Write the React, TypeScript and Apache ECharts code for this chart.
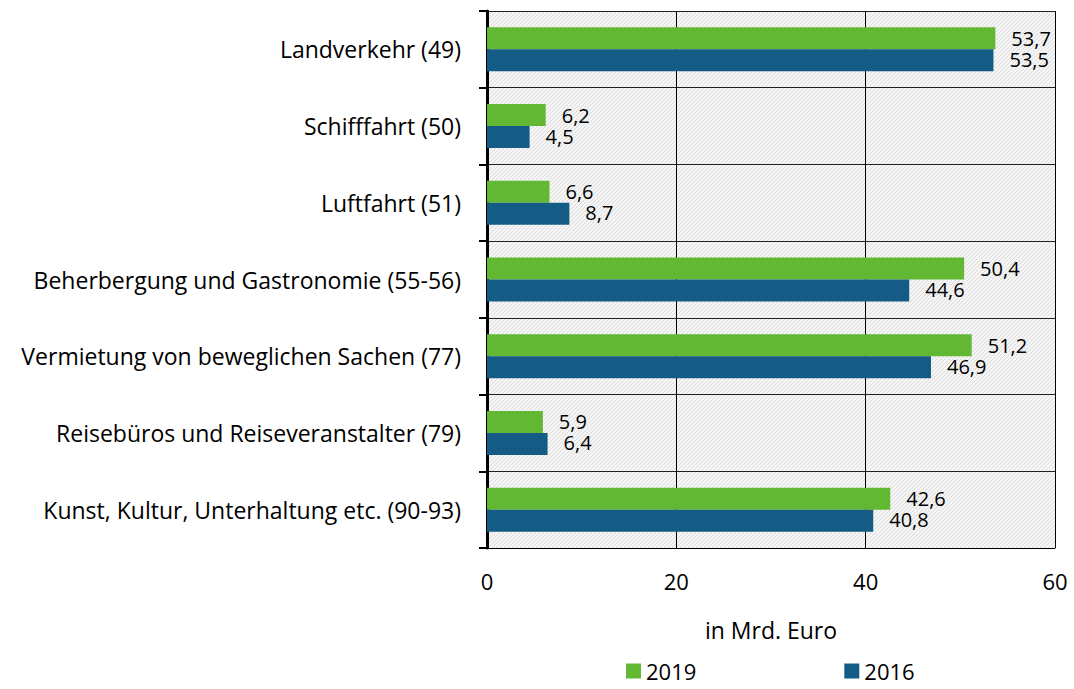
import React, { useEffect, useRef } from "react";
import * as echarts from "echarts";

const categories = [
  "Landverkehr (49)",
  "Schifffahrt (50)",
  "Luftfahrt (51)",
  "Beherbergung und Gastronomie (55-56)",
  "Vermietung von beweglichen Sachen (77)",
  "Reisebüros und Reiseveranstalter (79)",
  "Kunst, Kultur, Unterhaltung etc. (90-93)",
];
const values2019 = [53.7, 6.2, 6.6, 50.4, 51.2, 5.9, 42.6];
const values2016 = [53.5, 4.5, 8.7, 44.6, 46.9, 6.4, 40.8];
const seriesNames = ["2019", "2016"];
const axisName = "in Mrd. Euro";

const FONT = "'Open Sans', 'Noto Sans', sans-serif";

function makePattern(): any {
  const c = document.createElement("canvas");
  c.width = 4;
  c.height = 4;
  const ctx = c.getContext("2d")!;
  ctx.fillStyle = "#f5f5f5";
  ctx.fillRect(0, 0, 4, 4);
  ctx.fillStyle = "#dcdcdc";
  ctx.fillRect(3, 0, 1, 1);
  ctx.fillRect(2, 1, 1, 1);
  ctx.fillRect(1, 2, 1, 1);
  ctx.fillRect(0, 3, 1, 1);
  return { image: c, repeat: "repeat" };
}

export default function App() {
  const ref = useRef<HTMLDivElement>(null);
  useEffect(() => {
    document.body.style.margin = "0";
    const chart = echarts.init(ref.current!, null, { renderer: "svg" });
    const fmt = (p: any) => String(p.value).replace(".", ",");
    const valueLabel = {
      show: true,
      position: "right",
      distance: 16,
      fontSize: 20,
      lineHeight: 18,
      color: "#000",
      formatter: fmt,
      fontFamily: FONT,
    };
    chart.setOption({
      animation: false,
      textStyle: { fontFamily: FONT },
      grid: {
        left: 487,
        right: 19,
        top: 11,
        bottom: 141,
        show: true,
        borderWidth: 0,
        backgroundColor: makePattern(),
      },
      legend: {
        top: 655,
        left: 621,
        itemWidth: 15,
        itemHeight: 15,
        itemGap: 148,
        icon: "rect",
        textStyle: { fontSize: 22, color: "#000", fontFamily: FONT },
        data: seriesNames,
      },
      xAxis: {
        type: "value",
        min: 0,
        max: 60,
        interval: 20,
        name: axisName,
        nameLocation: "middle",
        nameGap: 70,
        nameTextStyle: { fontSize: 23, color: "#000", fontFamily: FONT },
        axisLine: { show: true, lineStyle: { color: "#000", width: 1 } },
        axisTick: { show: false },
        axisLabel: { fontSize: 22, color: "#000", margin: 22, fontFamily: FONT },
        splitLine: { show: true, lineStyle: { color: "#000", width: 1 } },
      },
      yAxis: {
        type: "category",
        inverse: true,
        data: categories,
        axisLine: { show: true, lineStyle: { color: "#000", width: 3 } },
        axisTick: { show: true, length: 8, lineStyle: { color: "#000", width: 2 } },
        axisLabel: { fontSize: 23, color: "#000", margin: 26, fontFamily: FONT },
        splitLine: { show: true, lineStyle: { color: "#222", width: 1 } },
      },
      series: [
        {
          name: seriesNames[0],
          type: "bar",
          data: values2019,
          barWidth: 22,
          barGap: "0%",
          itemStyle: { color: "#62b832" },
          label: { ...valueLabel, offset: [0, 0] },
        },
        {
          name: seriesNames[1],
          type: "bar",
          data: values2016,
          barWidth: 22,
          barGap: "0%",
          itemStyle: { color: "#145c85" },
          label: { ...valueLabel, offset: [0, -1] },
        },
      ],
    });
    return () => chart.dispose();
  }, []);
  return <div ref={ref} style={{ width: 1074, height: 689 }} />;
}
